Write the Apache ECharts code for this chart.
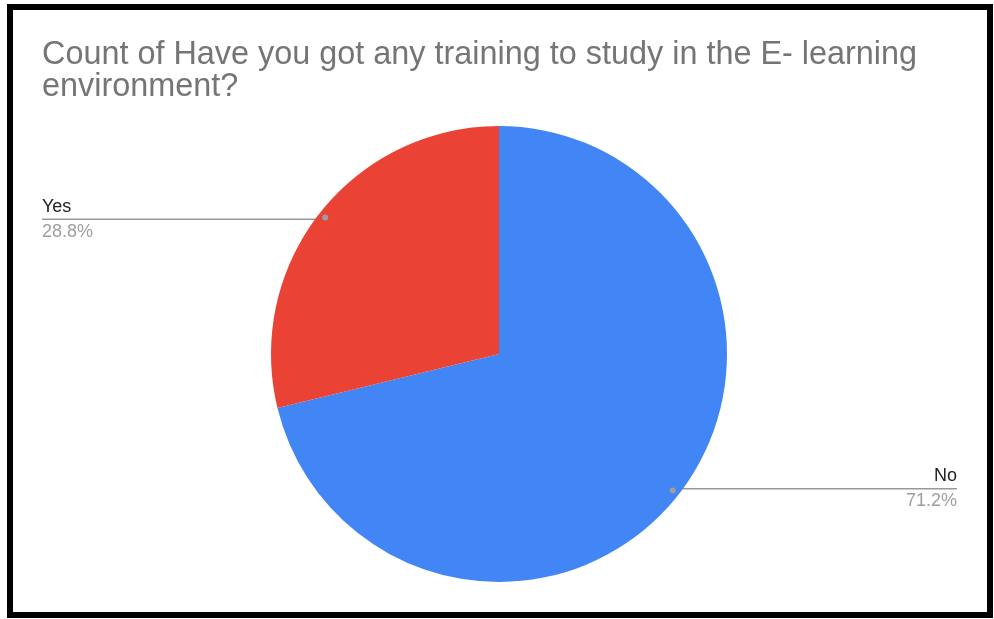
<!DOCTYPE html>
<html>
<head>
<meta charset="utf-8">
<script src="https://cdn.jsdelivr.net/npm/echarts@6/dist/echarts.min.js"></script>
<style>
  html, body { margin: 0; padding: 0; background: #ffffff; }
  #chart { width: 994px; height: 619px; }
</style>
</head>
<body>
<div id="chart"></div>
<script>
// Answers and their share of responses (percent)
const categories = ['No', 'Yes'];
const shares = [71.2, 28.8];
const sliceColors = ['#4285F4', '#EA4335'];
const titleText = 'Count of Have you got any training to study in the E- learning\nenvironment?';

// Pie geometry (pixels)
const CX = 499, CY = 354, R = 228, DOT_R = 218;
const LEFT_EDGE = 42, RIGHT_EDGE = 957;

const data = categories.map((name, i) => ({
  name: name,
  value: shares[i],
  itemStyle: { color: sliceColors[i] }
}));

const total = shares.reduce((a, b) => a + b, 0);
// Mid-angle anchor point of each slice, starting at 12 o'clock and going clockwise
function anchorPoint(index) {
  let before = 0;
  for (let i = 0; i < index; i++) before += shares[i];
  const frac = (before + shares[index] / 2) / total;
  const a = Math.PI / 2 - 2 * Math.PI * frac;
  return [CX + DOT_R * Math.cos(a), CY - DOT_R * Math.sin(a)];
}

const chart = echarts.init(document.getElementById('chart'), null, { renderer: 'canvas' });

chart.setOption({
  backgroundColor: '#ffffff',
  animation: false,
  title: {
    text: titleText,
    left: 42,
    top: 39,
    padding: 0,
    textStyle: {
      fontFamily: 'Liberation Sans, Arial, sans-serif',
      fontSize: 32.4,
      fontWeight: 'normal',
      color: '#757575',
      lineHeight: 32
    }
  },
  graphic: [{
    type: 'rect',
    shape: { x: 10, y: 7, width: 980, height: 608 },
    style: { fill: 'none', stroke: '#000000', lineWidth: 6 },
    silent: true,
    z: 100
  }],
  series: [
    {
      type: 'pie',
      center: [CX, CY],
      radius: [0, R],
      startAngle: 90,
      clockwise: true,
      percentPrecision: 1,
      data: data,
      itemStyle: { borderWidth: 0 },
      emphasis: { disabled: true },
      label: {
        show: true,
        formatter: '{name|{b}}\n{pct|{d}%}',
        rich: {
          name: {
            fontFamily: 'Liberation Sans, Arial, sans-serif',
            fontSize: 18,
            color: '#222222',
            lineHeight: 25
          },
          pct: {
            fontFamily: 'Liberation Sans, Arial, sans-serif',
            fontSize: 18,
            color: '#9e9e9e',
            lineHeight: 25
          }
        }
      },
      labelLine: {
        show: true,
        smooth: false,
        lineStyle: { color: '#999999', width: 1.5 }
      },
      labelLayout: function (params) {
        const p = anchorPoint(params.dataIndex);
        const onLeft = p[0] < CX;
        const endX = onLeft ? LEFT_EDGE : RIGHT_EDGE;
        return {
          x: endX,
          y: p[1],
          align: onLeft ? 'left' : 'right',
          verticalAlign: 'middle',
          labelLinePoints: [[p[0], p[1]], [p[0], p[1]], [endX, p[1]]]
        };
      }
    },
    {
      // transparent ring whose inside labels mark the anchor dots
      type: 'pie',
      center: [CX, CY],
      radius: [DOT_R - 10, DOT_R + 10],
      startAngle: 90,
      clockwise: true,
      silent: true,
      data: categories.map((name, i) => ({ name: name, value: shares[i] })),
      itemStyle: { color: 'rgba(0,0,0,0)', borderWidth: 0 },
      emphasis: { disabled: true },
      label: {
        show: true,
        position: 'inside',
        formatter: '{dot|}',
        fontSize: 6,
        lineHeight: 6,
        align: 'center',
        verticalAlign: 'middle',
        rich: {
          dot: { width: 6, height: 6, lineHeight: 6, borderRadius: 3, backgroundColor: '#9e9e9e' }
        }
      },
      labelLine: { show: false },
      z: 5
    }
  ]
});
</script>
</body>
</html>
